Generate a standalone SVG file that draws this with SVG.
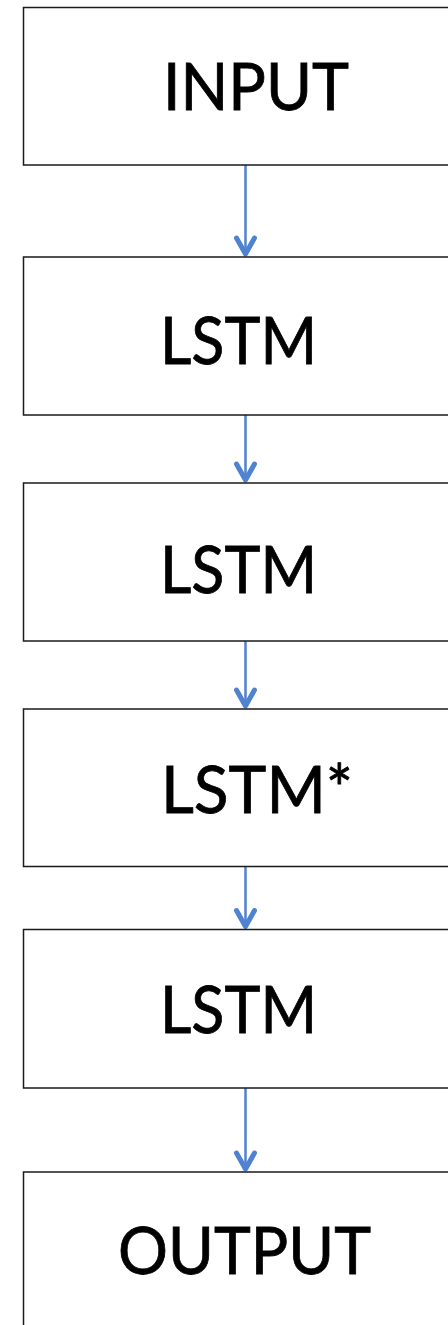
<svg xmlns="http://www.w3.org/2000/svg" width="448" height="1325" viewBox="0 0 448 1325">
<style>
.box{fill:#fff;stroke:#1a1a1a;stroke-width:1.5}
.lbl{font-family:Lato,"Open Sans","Liberation Sans",sans-serif;font-size:66px;fill:#000;stroke:#000;stroke-width:0.8}
.conn{stroke:#4f83d1;stroke-width:2.5;fill:none}
.head{stroke:#4f83d1;stroke-width:5;fill:none;stroke-linecap:round;stroke-linejoin:round}
</style>
<rect x="0" y="0" width="448" height="1325" fill="#fff"/>
<g id="connectors">
<line class="conn" x1="245.5" y1="165" x2="245.5" y2="254"/>
<polyline class="head" points="236.5,238 245.5,254 254.5,238"/>
<line class="conn" x1="245.5" y1="415" x2="245.5" y2="480"/>
<polyline class="head" points="236.5,464 245.5,480 254.5,464"/>
<line class="conn" x1="245.5" y1="641" x2="245.5" y2="706"/>
<polyline class="head" points="236.5,690 245.5,706 254.5,690"/>
<line class="conn" x1="245.5" y1="866.5" x2="245.5" y2="926.5"/>
<polyline class="head" points="236.5,910.5 245.5,926.5 254.5,910.5"/>
<line class="conn" x1="245.5" y1="1088" x2="245.5" y2="1169"/>
<polyline class="head" points="236.5,1153 245.5,1169 254.5,1153"/>
</g>
<g id="input">
<rect class="box" x="23.5" y="7.5" width="450" height="157.5"/>
<text class="lbl" x="163" y="110" textLength="186" lengthAdjust="spacingAndGlyphs">INPUT</text>
</g>
<g id="lstm1">
<rect class="box" x="23.5" y="257" width="450" height="158"/>
<text class="lbl" x="160" y="364" textLength="157" lengthAdjust="spacingAndGlyphs">LSTM</text>
</g>
<g id="lstm2">
<rect class="box" x="23.5" y="483" width="450" height="158"/>
<text class="lbl" x="160" y="593" textLength="157" lengthAdjust="spacingAndGlyphs">LSTM</text>
</g>
<g id="lstm3">
<rect class="box" x="23.5" y="709" width="450" height="157.5"/>
<text class="lbl" x="161" y="813" textLength="192" lengthAdjust="spacingAndGlyphs">LSTM*</text>
</g>
<g id="lstm4">
<rect class="box" x="23.5" y="929.5" width="450" height="158.5"/>
<text class="lbl" x="160" y="1033" textLength="157" lengthAdjust="spacingAndGlyphs">LSTM</text>
</g>
<g id="output">
<rect class="box" x="23.5" y="1172" width="450" height="200"/>
<text class="lbl" x="118" y="1274" textLength="253" lengthAdjust="spacingAndGlyphs">OUTPUT</text>
</g>
</svg>
